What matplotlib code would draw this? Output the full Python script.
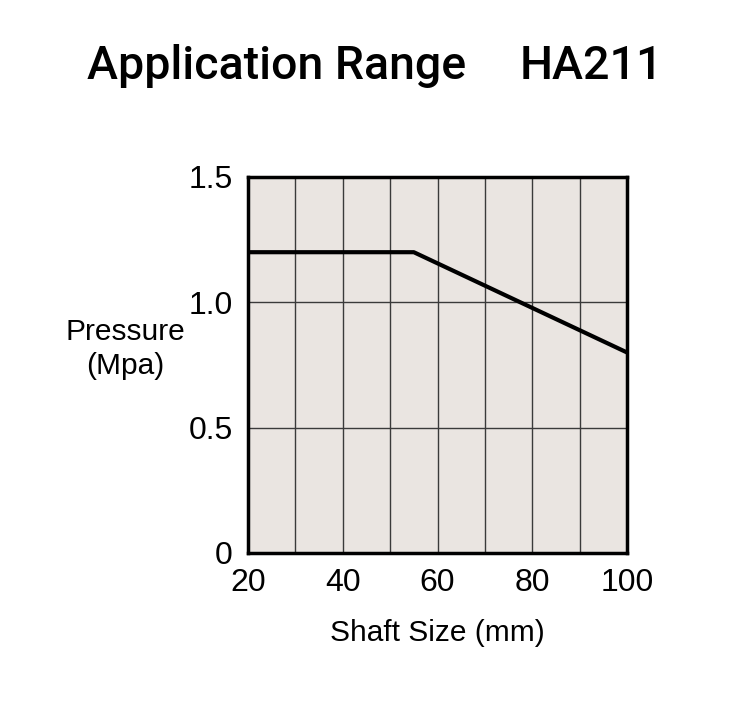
import matplotlib
matplotlib.use("Agg")
import matplotlib.pyplot as plt

shaft_size = [20, 55, 100]
pressure = [1.2, 1.2, 0.8]
x_ticks = [20, 40, 60, 80, 100]
x_tick_labels = ["20", "40", "60", "80", "100"]
y_ticks = [0, 0.5, 1.0, 1.5]
y_tick_labels = ["0", "0.5", "1.0", "1.5"]
x_grid = [30, 40, 50, 60, 70, 80, 90]
y_grid = [0.5, 1.0]

fig = plt.figure(figsize=(7.42, 7.03), dpi=100)
ax = fig.add_axes([248/742, 150/703, 379/742, 376/703])
ax.set_facecolor("#EAE5E1")
ax.plot(shaft_size, pressure, color="black", lw=3, solid_capstyle="butt", zorder=3)
for gx in x_grid:
    ax.axvline(gx, color="#3a3a3a", lw=1, zorder=1)
for gy in y_grid:
    ax.axhline(gy, color="#3a3a3a", lw=1, zorder=1)
ax.set_xlim(20, 100)
ax.set_ylim(0, 1.5)
ax.set_xticks(x_ticks)
ax.set_xticklabels(x_tick_labels, fontsize=23, family="Liberation Sans")
ax.set_yticks(y_ticks)
ax.set_yticklabels(y_tick_labels, fontsize=23, family="Liberation Sans")
ax.tick_params(axis="x", length=0, pad=11)
ax.tick_params(axis="y", length=0, pad=11)
for s in ax.spines.values():
    s.set_linewidth(2.5)
    s.set_color("black")
ax.set_xlabel("Shaft Size (mm)", fontsize=21.5, family="Liberation Sans", labelpad=15)
fig.text(125/742, 1 - 349/703, "Pressure\n(Mpa)", ha="center", va="center",
         fontsize=21.5, family="Liberation Sans", linespacing=1.25)
fig.text(87/742, 1 - 66/703, "Application Range", ha="left", va="center",
         fontsize=33.5, family="Roboto", fontweight="medium")
fig.text(663/742, 1 - 66/703, "HA211", ha="right", va="center",
         fontsize=33.5, family="Roboto", fontweight="medium")
fig.savefig("out.png", dpi=100, facecolor="white")
